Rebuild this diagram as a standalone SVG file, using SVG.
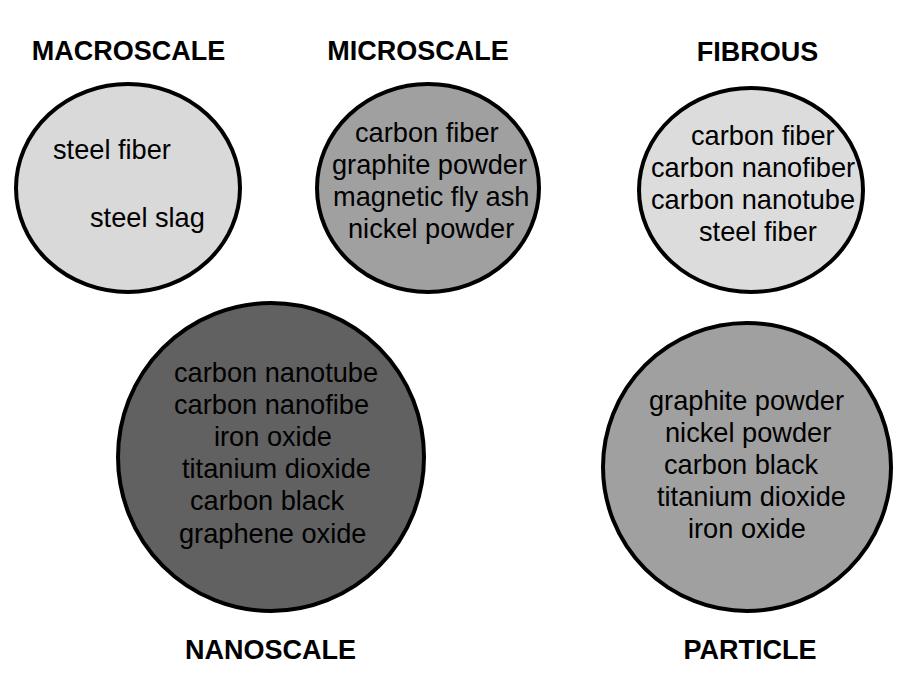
<svg xmlns="http://www.w3.org/2000/svg" width="912" height="676" viewBox="0 0 912 676">
<style>
.c{stroke:#000;stroke-width:4}
.t{font-family:"Liberation Sans",Arial,sans-serif;font-size:27.2px;fill:#000}
.h{font-family:"Liberation Sans",Arial,sans-serif;font-size:27px;font-weight:bold;fill:#000;text-anchor:middle}
</style>
<rect width="912" height="676" fill="#fff"/>
<g id="connectors"/>
<g id="macroscale">
<ellipse class="c" cx="128" cy="188" rx="112" ry="104" fill="#d9d9d9"/>
<text class="h" x="128.5" y="60">MACROSCALE</text>
<text class="t" x="53" y="159">steel fiber</text>
<text class="t" x="90" y="227">steel slag</text>
</g>
<g id="microscale">
<ellipse class="c" cx="428" cy="188" rx="111" ry="104" fill="#a0a0a0"/>
<text class="h" x="418" y="60">MICROSCALE</text>
<text class="t" x="355" y="142">carbon fiber</text>
<text class="t" x="332" y="174">graphite powder</text>
<text class="t" x="333" y="206">magnetic fly ash</text>
<text class="t" x="348" y="238">nickel powder</text>
</g>
<g id="fibrous">
<ellipse class="c" cx="751" cy="190" rx="112" ry="102" fill="#dcdcdc"/>
<text class="h" x="757.5" y="61">FIBROUS</text>
<text class="t" x="691" y="145">carbon fiber</text>
<text class="t" x="651" y="177">carbon nanofiber</text>
<text class="t" x="651" y="209">carbon nanotube</text>
<text class="t" x="699" y="241">steel fiber</text>
</g>
<g id="nanoscale">
<ellipse class="c" cx="271" cy="457" rx="153" ry="154" fill="#616161"/>
<text class="h" x="270.5" y="659">NANOSCALE</text>
<text class="t" x="174" y="382">carbon nanotube</text>
<text class="t" x="174" y="414">carbon nanofibe</text>
<text class="t" x="214" y="446">iron oxide</text>
<text class="t" x="182" y="478">titanium dioxide</text>
<text class="t" x="190" y="510">carbon black</text>
<text class="t" x="179" y="543">graphene oxide</text>
</g>
<g id="particle">
<ellipse class="c" cx="747" cy="467" rx="144" ry="144" fill="#a0a0a0"/>
<text class="h" x="750" y="659">PARTICLE</text>
<text class="t" x="649" y="410">graphite powder</text>
<text class="t" x="665" y="442">nickel powder</text>
<text class="t" x="664" y="474">carbon black</text>
<text class="t" x="657" y="506">titanium dioxide</text>
<text class="t" x="688" y="538">iron oxide</text>
</g>
</svg>
